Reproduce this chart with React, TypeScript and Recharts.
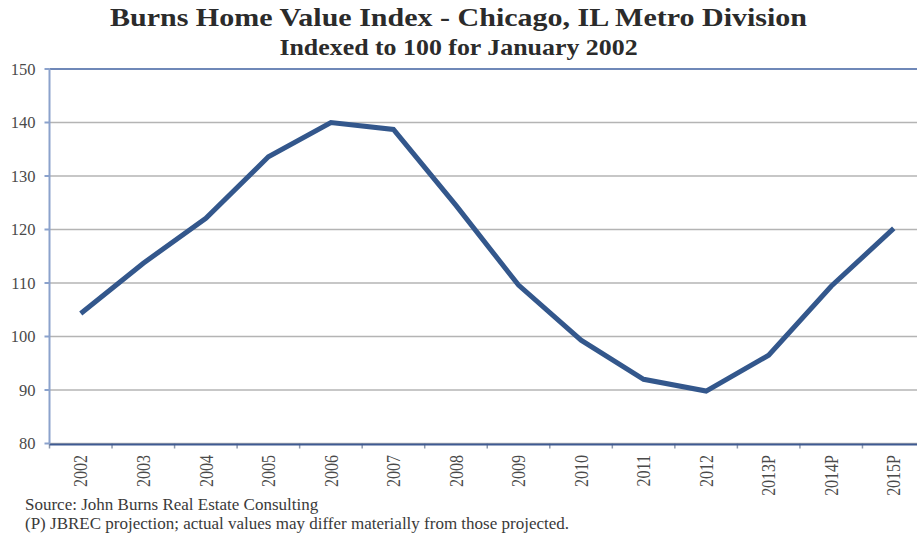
import React from 'react';
import {
  LineChart,
  Line,
  XAxis,
  YAxis,
  CartesianGrid,
  ReferenceLine,
} from 'recharts';

const YEARS = [
  '2002', '2003', '2004', '2005', '2006', '2007', '2008',
  '2009', '2010', '2011', '2012', '2013P', '2014P', '2015P',
];
const INDEX_VALUES = [
  104.3, 113.7, 122.1, 133.6, 140.0, 138.7, 124.5,
  109.6, 99.3, 92.0, 89.8, 96.5, 109.4, 120.2,
];
const Y_TICKS = [80, 90, 100, 110, 120, 130, 140, 150];

const TITLE = 'Burns Home Value Index - Chicago, IL Metro Division';
const SUBTITLE = 'Indexed to 100 for January 2002';
const NOTES = [
  'Source: John Burns Real Estate Consulting',
  '(P) JBREC projection; actual values may differ materially from those projected.',
];

const SERIF = '"Liberation Serif", "Times New Roman", serif';
const LINE_COLOR = '#33578c';

// x is the category position; year labels come from YEARS
const data = YEARS.map((year, i) => ({ idx: i, year, value: INDEX_VALUES[i] }));
const labelTicks = YEARS.map((_, i) => i);
// small tick marks sit between the categories
const edgeTicks = [...YEARS.map((_, i) => i - 0.5), YEARS.length - 0.5];
const xDomain = [-0.5, YEARS.length - 0.5];

// rotated year labels, reading bottom-to-top, a bit wide like the original
const YearTick = (props: any) => {
  const { x, y, payload } = props;
  return (
    <text
      transform={`translate(${x}, ${y}) scale(1.2, 1) rotate(-90)`}
      dy="0.35em"
      textAnchor="end"
      fontFamily={SERIF}
      fontSize={16}
      fill="#4a4a4a"
    >
      {YEARS[payload.value]}
    </text>
  );
};

const EmptyTick = () => <g />;

export default function App() {
  return (
    <div
      style={{
        position: 'absolute',
        left: 0,
        top: 0,
        width: 917,
        height: 539,
        background: '#fff',
        fontFamily: SERIF,
        overflow: 'hidden',
      }}
    >
      <div
        style={{
          position: 'absolute',
          top: 3,
          width: 917,
          textAlign: 'center',
          fontWeight: 'bold',
          fontSize: 25,
          color: '#2b2b2b',
          lineHeight: '30px',
          transform: 'scaleX(1.2)',
        }}
      >
        {TITLE}
      </div>
      <div
        style={{
          position: 'absolute',
          top: 35,
          width: 917,
          textAlign: 'center',
          fontWeight: 'bold',
          fontSize: 22.5,
          color: '#2b2b2b',
          lineHeight: '26px',
          transform: 'scaleX(1.15)',
        }}
      >
        {SUBTITLE}
      </div>

      <div style={{ position: 'absolute', left: 0, top: 0 }}>
        <LineChart
          width={925}
          height={539}
          data={data}
          margin={{ top: 69, right: 0, left: 0, bottom: 34.5 }}
        >
          <CartesianGrid vertical={false} stroke="#b4b4b4" strokeWidth={1.5} />
          <ReferenceLine y={150} stroke="#6f88b8" strokeWidth={2} />
          {/* thin axis holding only the between-category tick marks */}
          <XAxis
            dataKey="idx"
            type="number"
            domain={xDomain}
            ticks={edgeTicks}
            interval={0}
            height={1}
            axisLine={false}
            tick={<EmptyTick />}
            tickSize={5}
            tickLine={{ stroke: '#8e99ad', strokeWidth: 1.5 }}
          />
          <XAxis
            xAxisId="labels"
            dataKey="idx"
            type="number"
            domain={xDomain}
            ticks={labelTicks}
            interval={0}
            height={60}
            stroke="#3e5a92"
            strokeWidth={2}
            tickLine={false}
            tickMargin={4.5}
            tick={<YearTick />}
          />
          <YAxis
            width={49.5}
            domain={[80, 150]}
            ticks={Y_TICKS}
            stroke="#8ba2cc"
            strokeWidth={2}
            tickSize={5}
            tickMargin={9}
            tick={{ fontFamily: SERIF, fontSize: 16.5, fill: '#4a4a4a' }}
          />
          <Line
            type="linear"
            dataKey="value"
            stroke={LINE_COLOR}
            strokeWidth={5}
            dot={false}
            activeDot={false}
            isAnimationActive={false}
          />
        </LineChart>
      </div>

      <div
        style={{
          position: 'absolute',
          left: 25,
          top: 496,
          fontSize: 17,
          color: '#3a3a3a',
          lineHeight: '18.5px',
        }}
      >
        {NOTES.map((n) => (
          <div key={n}>{n}</div>
        ))}
      </div>
    </div>
  );
}
